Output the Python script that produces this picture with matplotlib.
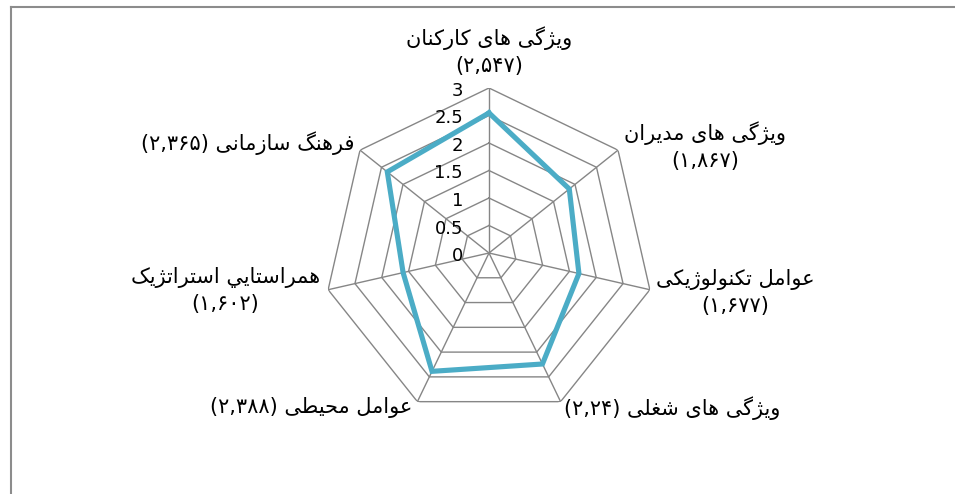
import numpy as np
import matplotlib
matplotlib.use('Agg')
import matplotlib.pyplot as plt
from matplotlib.lines import Line2D

# Chart data (logical Persian text, values as printed in labels)
factor_names = [
    'ویژگی های کارکنان',
    'ویژگی های مدیران',
    'عوامل تکنولوژیکی',
    'ویژگی های شغلی',
    'عوامل محیطی',
    'همراستايي استراتژیک',
    'فرهنگ سازمانی',
]
factor_scores = [2.547, 1.867, 1.677, 2.24, 2.388, 1.602, 2.365]
ring_levels = [0, 0.5, 1, 1.5, 2, 2.5, 3]
ring_labels = ['0', '0.5', '1', '1.5', '2', '2.5', '3']

# matplotlib has no Arabic shaping: map letters to presentation forms by hand
# (isolated, final, initial, medial); right-joining letters have two forms only
FORMS = {
    'ا': (0xFE8D, 0xFE8E), 'د': (0xFEA9, 0xFEAA), 'ر': (0xFEAD, 0xFEAE),
    'ز': (0xFEAF, 0xFEB0), 'ژ': (0xFB8A, 0xFB8B), 'و': (0xFEED, 0xFEEE),
    'ب': (0xFE8F, 0xFE90, 0xFE91, 0xFE92), 'ت': (0xFE95, 0xFE96, 0xFE97, 0xFE98),
    'ح': (0xFEA1, 0xFEA2, 0xFEA3, 0xFEA4), 'س': (0xFEB1, 0xFEB2, 0xFEB3, 0xFEB4),
    'ش': (0xFEB5, 0xFEB6, 0xFEB7, 0xFEB8), 'ط': (0xFEC1, 0xFEC2, 0xFEC3, 0xFEC4),
    'ع': (0xFEC9, 0xFECA, 0xFECB, 0xFECC), 'غ': (0xFECD, 0xFECE, 0xFECF, 0xFED0),
    'ف': (0xFED1, 0xFED2, 0xFED3, 0xFED4), 'ک': (0xFB8E, 0xFB8F, 0xFB90, 0xFB91),
    'گ': (0xFB92, 0xFB93, 0xFB94, 0xFB95), 'ل': (0xFEDD, 0xFEDE, 0xFEDF, 0xFEE0),
    'م': (0xFEE1, 0xFEE2, 0xFEE3, 0xFEE4), 'ن': (0xFEE5, 0xFEE6, 0xFEE7, 0xFEE8),
    'ه': (0xFEE9, 0xFEEA, 0xFEEB, 0xFEEC), 'ی': (0xFBFC, 0xFBFD, 0xFBFE, 0xFBFF),
    'ي': (0xFEF1, 0xFEF2, 0xFEF3, 0xFEF4),
}


def shape_rtl(text):
    out = []
    for i, ch in enumerate(text):
        if ch not in FORMS:
            out.append(ch)
            continue
        prev = text[i - 1] if i > 0 else ''
        nxt = text[i + 1] if i + 1 < len(text) else ''
        joins_prev = prev in FORMS and len(FORMS[prev]) == 4
        joins_next = len(FORMS[ch]) == 4 and nxt in FORMS
        f = FORMS[ch]
        if joins_prev and joins_next:
            out.append(chr(f[3]))
        elif joins_next:
            out.append(chr(f[2]))
        elif joins_prev:
            out.append(chr(f[1]))
        else:
            out.append(chr(f[0]))
    return ''.join(out)[::-1]


def fa_number(v):
    return '(' + str(v).replace('.', ',').translate(str.maketrans('0123456789', '۰۱۲۳۴۵۶۷۸۹')) + ')'


# label layout: two-line or single-line, offset from vertex in pixels, alignment
two_line = [True, True, True, False, False, True, False]
label_offsets = [(0, 12), (6, 4), (6, -3), (3, -6), (-5, -6), (-8, -1), (-5, 7)]
label_ha = ['center', 'left', 'left', 'left', 'right', 'right', 'right']
label_va = ['bottom', 'center', 'center', 'center', 'center', 'center', 'center']

n = len(factor_names)
theta = np.arange(n) * 2 * np.pi / n
theta_closed = np.append(theta, theta[0])

fig = plt.figure(figsize=(9.55, 4.94), dpi=100)
ax = fig.add_axes([324 / 955, 76 / 494, 330 / 955, 330 / 494], projection='polar')
ax.set_theta_zero_location('N')
ax.set_theta_direction(-1)
ax.set_ylim(0, 3)
ax.grid(False)
ax.set_xticks([])
ax.set_yticks([])
ax.spines['polar'].set_visible(False)
ax.patch.set_visible(False)

grid_color = '#868686'
for lvl in ring_levels[1:]:
    ax.plot(theta_closed, [lvl] * (n + 1), color=grid_color, lw=1.0, zorder=1)
for t in theta:
    ax.plot([t, t], [0, ring_levels[-1]], color=grid_color, lw=1.0, zorder=1)

scores_closed = factor_scores + factor_scores[:1]
ax.plot(theta_closed, scores_closed, color='#4BACC6', lw=3.7, zorder=3,
        solid_joinstyle='miter')

# radial tick labels left of the top spoke
for lvl, lab in zip(ring_levels, ring_labels):
    ax.annotate(lab, xy=(0, lvl), xytext=(-26, -3), textcoords='offset pixels',
                ha='right', va='center', fontsize=13, family='DejaVu Sans',
                annotation_clip=False)

for i in range(n):
    name = shape_rtl(factor_names[i])
    num = fa_number(factor_scores[i])
    txt = name + '\n' + num if two_line[i] else num + ' ' + name
    ax.annotate(txt, xy=(theta[i], 3), xytext=label_offsets[i],
                textcoords='offset pixels', ha=label_ha[i], va=label_va[i],
                multialignment='center', fontsize=15, linespacing=1.4,
                family='DejaVu Sans', annotation_clip=False)

# chart-area border (only top and left edges show in the crop)
fig.add_artist(Line2D([10.5 / 955, 1], [486.5 / 494, 486.5 / 494],
                      transform=fig.transFigure, color='#8c8c8c', lw=1.5))
fig.add_artist(Line2D([10.5 / 955, 10.5 / 955], [0, 486.5 / 494],
                      transform=fig.transFigure, color='#8c8c8c', lw=1.5))

fig.savefig('out.png', dpi=100)
plt.close(fig)
